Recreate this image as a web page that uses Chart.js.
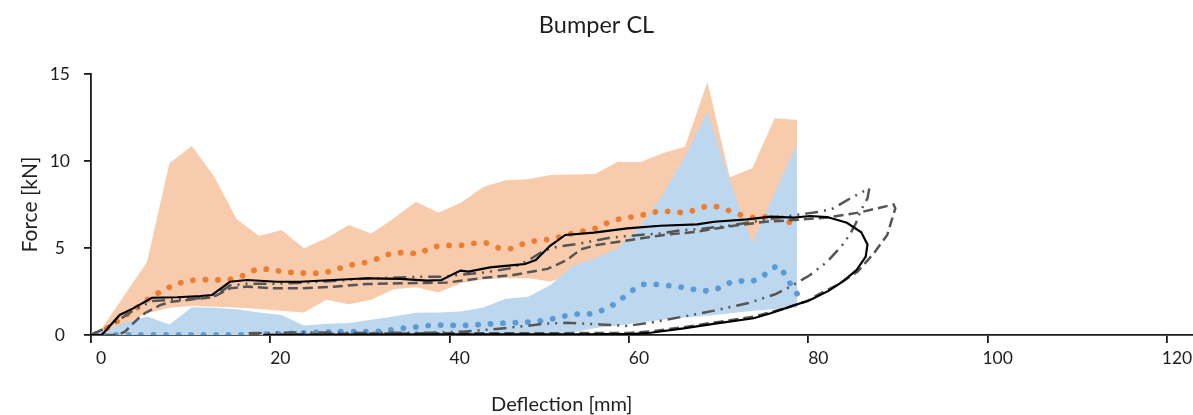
<!DOCTYPE html>
<html>
<head>
<meta charset="utf-8">
<script src="https://cdn.jsdelivr.net/npm/chart.js@4"></script>
<style>
  body { margin: 0; background: #fff; }
  canvas { display: block; }
</style>
</head>
<body>
<canvas id="bumperChart" width="1193" height="415"></canvas>
<script>
// corridor bands (same x for all four edges)
const bandX = [0, 1.25, 3.75, 6.25, 8.75, 11.25, 13.75, 16.25, 18.75, 21.25, 23.75, 26.25, 28.75,
  31.25, 33.75, 36.25, 38.75, 41.25, 43.75, 46.25, 48.75, 51.25, 53.75, 56.25, 58.75, 61.25,
  63.75, 66.25, 68.75, 71.25, 73.75, 76.25, 78.75];
const orangeUpper = [0, 0.4, 2.3, 4.2, 9.87, 10.86, 9.1, 6.65, 5.69, 6.03, 4.98, 5.56, 6.32,
  5.84, 6.7, 7.66, 7.03, 7.6, 8.5, 8.9, 8.95, 9.2, 9.22, 9.25, 9.96, 9.93,
  10.44, 10.82, 14.56, 9.06, 9.58, 12.45, 12.36];
const orangeLower = [0, 0.1, 0.6, 1.25, 1.57, 1.67, 1.63, 1.58, 1.5, 1.4, 1.3, 2.02, 1.77,
  2.02, 2.63, 2.75, 2.44, 2.97, 3.2, 3.26, 3.26, 3.07, 3.5, 3.9, 4.2, 4.5,
  4.8, 5.0, 5.2, 5.3, 5.3, 5.4, 5.5];
const blueUpper = [0, 0.2, 0.7, 1.07, 0.6, 1.6, 1.57, 1.48, 1.3, 1.15, 0.55, 0.64, 0.69,
  0.88, 1.07, 1.28, 1.3, 1.35, 1.58, 2.08, 2.2, 2.87, 4.0, 4.4, 4.98, 6.22,
  8.05, 10.25, 12.83, 8.9, 5.3, 8.15, 11.0];
const blueLower = [0, 0, 0, 0, 0, 0, 0, 0, 0, 0, 0, 0, 0,
  0, 0, 0, 0, 0, 0, 0, 0, 0.03, 0.15, 0.4, 0.55, 0.72,
  0.88, 1.0, 1.1, 1.25, 1.38, 1.5, 1.6];

// corridor means
const orangeMeanX = [0.5, 2, 3.5, 5, 6.5, 8, 9.5, 11, 12.5, 14, 15.5, 17, 18.5, 20, 21.5, 23, 24.5,
  26, 27.5, 29, 30.5, 32, 33.5, 35, 36.5, 38, 39.5, 41, 42.5, 44, 45.5, 47, 48.5, 50, 51.5,
  53, 54.5, 56, 57.5, 59, 60.5, 62, 63.5, 65, 66.5, 68, 69.5, 71, 72.5, 74, 75.5, 77, 78.4];
const orangeMeanY = [0.05, 0.45, 1.0, 1.52, 2.1, 2.55, 2.92, 3.12, 3.18, 3.16, 3.2, 3.42, 3.77,
  3.76, 3.63, 3.58, 3.55, 3.58, 3.8, 4.02, 4.16, 4.39, 4.68, 4.73, 4.7, 5.02, 5.15, 5.14, 5.25,
  5.3, 5.0, 4.98, 5.3, 5.44, 5.53, 5.75, 5.93, 6.08, 6.42, 6.67, 6.8, 6.95, 7.12, 7.07, 7.05,
  7.32, 7.4, 7.18, 6.9, 6.75, 6.79, 6.66, 6.36];
const blueMeanX = [0, 5, 10, 15, 18, 20, 22.5, 25, 27.5, 30, 32, 33.5, 35, 36.5, 38, 39.5, 41,
  42.5, 44, 45.5, 47, 48.5, 50, 51.2, 52.5, 53.9, 55.3, 56.6, 57.9, 59, 60.2, 61.3, 62.6, 63.9,
  65.4, 66.8, 68.2, 69.5, 70.8, 72, 73.3, 74.6, 75.7, 76.7, 77.5, 78.2, 79];
const blueMeanY = [0, 0, 0, 0, 0.02, 0.05, 0.1, 0.15, 0.19, 0.19, 0.2, 0.3, 0.4, 0.47, 0.56, 0.57,
  0.54, 0.58, 0.62, 0.67, 0.7, 0.73, 0.8, 0.9, 1.05, 1.2, 1.19, 1.34, 1.63, 2.01, 2.49, 2.87,
  2.92, 2.86, 2.78, 2.66, 2.55, 2.59, 2.91, 3.12, 3.06, 3.26, 3.7, 3.97, 3.35, 2.78, 2.17];

// test loops (loading then unloading)
const solidX = [0, 1.2, 3.2, 4.7, 6.8, 9.6, 12.2, 13.5, 15.5, 17.4, 20.7, 23.3, 27, 30.8, 34.5,
  37.5, 39.1, 41.2, 42.1, 44.5, 47.1, 48.4, 49.6, 51.2, 52.9, 56.1, 59.8, 63.5, 67.6, 69.5,
  73.2, 75.8, 78.4, 80.2, 82.1, 84.3, 85.9, 86.6, 86.4, 85.4, 83.9, 82.3, 80.2, 78, 75.8,
  73.9, 69.8, 66.1, 62.4, 60.5, 55, 50, 40, 30, 19.2];
const solidY = [0, 0, 1.15, 1.53, 2.14, 2.17, 2.24, 2.3, 3.06, 3.16, 3.06, 3.06, 3.16, 3.26, 3.22,
  3.12, 3.16, 3.7, 3.64, 3.89, 4.02, 4.08, 4.31, 5.13, 5.75, 5.88, 6.13, 6.28, 6.36, 6.51,
  6.65, 6.8, 6.75, 6.84, 6.78, 6.45, 5.9, 5.2, 4.5, 3.75, 3.1, 2.55, 2.01, 1.63, 1.25,
  0.96, 0.67, 0.38, 0.13, 0.06, 0.04, 0.04, 0.04, 0.02, 0];
const dashedX = [0, 3, 3.8, 4.5, 5.3, 6.0, 7.7, 9.0, 12.2, 13.6, 15.5, 17.4, 20.3, 23.3, 27,
  30.8, 34.5, 39.7, 43.4, 47.1, 50.9, 53.1, 54.6, 56.4, 60.2, 63.9, 67.6, 71.3, 75, 78.8,
  82.1, 85.8, 89.5, 89.7, 88.8, 87.3, 85.5, 83.2, 81, 79.9, 77.3, 73.9, 69.8, 66.1, 62.4,
  60, 50, 40, 30, 17.6];
const dashedY = [0, 0, 0.19, 0.57, 0.96, 1.25, 1.72, 1.91, 2.1, 2.17, 2.68, 2.78, 2.68, 2.68, 2.78,
  2.93, 2.97, 3.01, 3.26, 3.45, 3.8, 4.31, 4.92, 5.17, 5.46, 5.75, 5.94, 6.25, 6.5, 6.62,
  6.75, 7.05, 7.5, 7.28, 5.75, 4.69, 3.64, 2.87, 2.3, 1.95, 1.52, 1.05, 0.74, 0.45, 0.2,
  0.12, 0.1, 0.1, 0.08, 0];
const dashDotX = [0, 1.75, 3.5, 5, 6.8, 9.6, 12.5, 13.8, 15.5, 17.4, 20.7, 24, 27, 30.8, 34.5,
  37, 39.1, 41, 44, 47, 48.8, 50.5, 52, 54.2, 57.9, 59.8, 63.5, 66, 68, 71.3, 75.8, 77.3,
  79.9, 81.4, 82.8, 84.7, 86.8, 86.6, 85.8, 85.3, 84.7, 83.8, 82.1, 80.2, 78, 76.3, 73.2,
  69.5, 66.5, 62.4, 59.8, 56.8, 53.1, 50.5, 49.4, 45.5, 41.5, 37.8, 30, 24, 17.5];
const dashDotY = [0, 0.44, 1.0, 1.5, 1.95, 2.05, 2.12, 2.25, 2.85, 2.95, 2.95, 3.02, 3.1, 3.25, 3.3,
  3.35, 3.35, 3.45, 3.6, 3.85, 4.3, 4.85, 5.07, 5.23, 5.59, 5.69, 5.84, 6.03, 6.09, 6.3, 6.67,
  6.8, 6.99, 7.09, 7.28, 7.86, 8.43, 7.86, 7.09, 6.42, 5.84, 5.17, 4.21, 3.45, 2.78, 2.34,
  1.82, 1.4, 1.1, 0.71, 0.52, 0.61, 0.7, 0.65, 0.57, 0.36, 0.19, 0.13, 0.12, 0.15, 0.1];

const xTicks = [0, 20, 40, 60, 80, 100, 120];
const yTicks = [0, 5, 10, 15];

const FONT = 'Lato, "Open Sans", sans-serif';
const TEXT = '#1e1e1e';

function toPoints(xs, ys) {
  return xs.map((x, i) => ({ x, y: ys[i] }));
}

function band(ys, color, fill) {
  return {
    data: toPoints(bandX, ys),
    borderWidth: 0,
    borderColor: color,
    backgroundColor: color,
    fill: fill,
    tension: 0
  };
}

function meanLine(xs, ys, color) {
  return {
    data: toPoints(xs, ys),
    borderColor: color,
    borderWidth: 5.8,
    borderDash: [0.1, 12.4],
    borderCapStyle: 'round',
    fill: false,
    tension: 0.3
  };
}

function loop(xs, ys, color, dash, width) {
  return {
    data: toPoints(xs, ys),
    borderColor: color,
    borderWidth: width,
    borderDash: dash,
    fill: false,
    tension: 0
  };
}

// draws the x axis title, Excel centres it a bit left of the plot middle
const xTitlePlugin = {
  id: 'xTitle',
  afterDraw(chart) {
    const { ctx, scales } = chart;
    ctx.save();
    ctx.font = '20px ' + FONT;
    ctx.fillStyle = TEXT;
    ctx.textAlign = 'center';
    ctx.textBaseline = 'middle';
    ctx.fillText('Deflection [mm]', scales.x.getPixelForValue(52.5), scales.x.bottom - 10);
    ctx.restore();
  }
};

const ctx = document.getElementById('bumperChart').getContext('2d');
new Chart(ctx, {
  type: 'line',
  data: {
    datasets: [
      loop(solidX, solidY, '#000000', [], 2.2),
      loop(dashedX, dashedY, '#555555', [10, 5], 2.5),
      loop(dashDotX, dashDotY, '#555555', [13, 6, 2, 6, 2, 6], 2.5),
      meanLine(blueMeanX, blueMeanY, '#5B9BD5'),
      meanLine(orangeMeanX, orangeMeanY, '#ED7D31'),
      band(blueUpper, '#BDD7EE', '+1'),
      band(blueLower, '#BDD7EE', false),
      band(orangeUpper, '#F8CBAD', '+1'),
      band(orangeLower, '#F8CBAD', false)
    ]
  },
  options: {
    responsive: false,
    animation: false,
    events: [],
    elements: { point: { radius: 0 } },
    layout: { padding: 0 },
    plugins: {
      legend: { display: false },
      tooltip: { enabled: false },
      title: {
        display: true,
        text: 'Bumper CL',
        color: TEXT,
        font: { family: FONT, size: 23.5, weight: 'normal' },
        padding: { top: 11, bottom: 34.8 }
      }
    },
    scales: {
      x: {
        type: 'linear',
        min: 0,
        max: 122.9,
        afterFit: s => { s.height = 80; },
        afterBuildTicks: s => { s.ticks = xTicks.map(v => ({ value: v })); },
        ticks: {
          color: TEXT,
          font: { family: FONT, size: 17.5 },
          padding: 5,
          labelOffset: 10,
          maxRotation: 0
        },
        grid: { drawOnChartArea: false, tickLength: 8, color: '#1a1a1a', lineWidth: 1.8 },
        border: { color: '#1a1a1a', width: 1.8 }
      },
      y: {
        min: 0,
        max: 15,
        afterFit: s => { s.width = 91; },
        afterBuildTicks: s => { s.ticks = yTicks.map(v => ({ value: v })); },
        ticks: {
          color: TEXT,
          font: { family: FONT, size: 17.5 },
          padding: 14,
          crossAlign: 'center'
        },
        title: {
          display: true,
          text: 'Force [kN]',
          color: TEXT,
          font: { family: FONT, size: 21 },
          padding: { top: 18, bottom: 0 }
        },
        grid: { drawOnChartArea: false, tickLength: 7, color: '#1a1a1a', lineWidth: 1.8 },
        border: { color: '#1a1a1a', width: 1.8 }
      }
    }
  },
  plugins: [xTitlePlugin]
});
</script>
</body>
</html>
